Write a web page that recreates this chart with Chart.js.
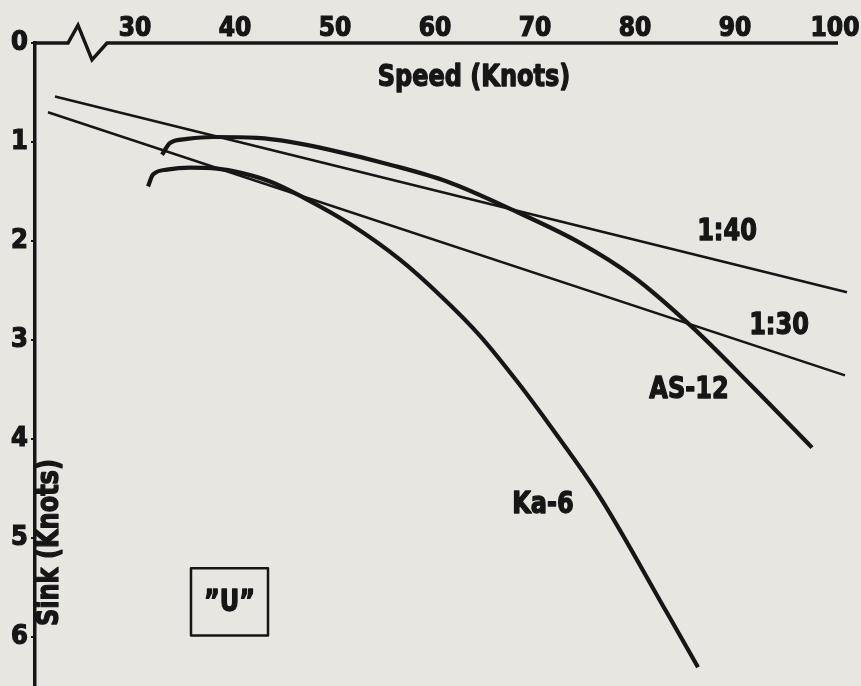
<!DOCTYPE html>
<html>
<head>
<meta charset="utf-8">
<script src="https://cdn.jsdelivr.net/npm/chart.js@4"></script>
<style>
  html, body { margin: 0; padding: 0; background: #e8e6e1; }
  #wrap { width: 861px; height: 686px; position: relative; }
</style>
</head>
<body>
<div id="wrap"><canvas id="c"></canvas></div>
<script>
// ---- data ----
const xTickValues = [30, 40, 50, 60, 70, 80, 90, 100];
const yTickValues = [0, 1, 2, 3, 4, 5, 6];

const ka6Speed = [31.0, 31.5, 32.9, 35.2, 37.9, 40.2, 43.2, 46.5, 51.2, 56.2, 60.2, 64.2, 67.9, 71.5, 76.2, 82.9, 86.0];
const ka6Sink  = [1.45, 1.33, 1.28, 1.26, 1.27, 1.31, 1.40, 1.56, 1.83, 2.19, 2.55, 2.96, 3.42, 3.91, 4.59, 5.76, 6.31];

const as12Speed = [32.4, 33.2, 34.9, 37.5, 41.9, 45.2, 49.2, 55.2, 60.9, 67.5, 74.2, 79.5, 85.4, 91.4, 97.4];
const as12Sink  = [1.13, 1.01, 0.97, 0.95, 0.96, 1.00, 1.08, 1.23, 1.40, 1.69, 2.02, 2.36, 2.87, 3.47, 4.09];

const glide40Speed = [21.7, 100.9];
const glide40Sink  = [0.54, 2.52];

const glide30Speed = [21.0, 100.7];
const glide30Sink  = [0.70, 3.36];

// top speed axis with its broken (zig-zag) start
const axisLineSpeed = [19.7, 23.0, 24.0, 25.4, 26.9, 100];
const axisLineSink  = [0, 0, -0.18, 0.17, 0, 0];

// ---- styling ----
const INK = '#161616';
const FAMILY = '"DejaVu Sans Condensed", "Liberation Sans Narrow", "DejaVu Sans", sans-serif';

function pts(xs, ys) { return xs.map((v, i) => ({ x: v, y: ys[i] })); }

const textPlugin = {
  id: 'chartTexts',
  afterDatasetsDraw(chart, args, opts) {
    const { ctx, scales: { x, y } } = chart;
    ctx.save();
    ctx.fillStyle = INK;
    ctx.strokeStyle = INK;
    ctx.textAlign = 'center';
    ctx.textBaseline = 'middle';
    ctx.lineJoin = 'round';
    for (const t of opts.items) {
      ctx.save();
      ctx.font = 'bold ' + t.size + 'px ' + FAMILY;
      ctx.translate(x.getPixelForValue(t.x), y.getPixelForValue(t.y));
      if (t.rotate) ctx.rotate(t.rotate);
      ctx.scale(opts.squeeze, 1);
      ctx.lineWidth = 1.3;
      ctx.strokeText(t.text, 0, 0);
      ctx.fillText(t.text, 0, 0);
      ctx.restore();
    }
    for (const b of opts.boxes) {
      const x0 = x.getPixelForValue(b.x0), x1 = x.getPixelForValue(b.x1);
      const y0 = y.getPixelForValue(b.y0), y1 = y.getPixelForValue(b.y1);
      ctx.lineWidth = 2.5;
      ctx.strokeRect(x0, y0, x1 - x0, y1 - y0);
    }
    ctx.restore();
  }
};

new Chart(document.getElementById('c'), {
  type: 'scatter',
  data: {
    datasets: [
      { label: 'axis', data: pts(axisLineSpeed, axisLineSink), showLine: true, borderColor: INK, borderWidth: 3.5, pointRadius: 0, tension: 0, clip: false, borderJoinStyle: 'miter' },
      { label: '1:40', data: pts(glide40Speed, glide40Sink), showLine: true, borderColor: INK, borderWidth: 2.5, pointRadius: 0, clip: false },
      { label: '1:30', data: pts(glide30Speed, glide30Sink), showLine: true, borderColor: INK, borderWidth: 2.5, pointRadius: 0, clip: false },
      { label: 'AS-12', data: pts(as12Speed, as12Sink), showLine: true, borderColor: INK, borderWidth: 4.2, pointRadius: 0, cubicInterpolationMode: 'monotone' },
      { label: 'Ka-6', data: pts(ka6Speed, ka6Sink), showLine: true, borderColor: INK, borderWidth: 4.2, pointRadius: 0, cubicInterpolationMode: 'monotone' }
    ]
  },
  options: {
    responsive: true,
    maintainAspectRatio: false,
    animation: false,
    layout: { padding: { left: 0, top: 0, right: 23, bottom: 0 } },
    plugins: {
      legend: { display: false },
      tooltip: { enabled: false },
      chartTexts: {
        squeeze: 0.89,
        items: [
          { text: 'Speed (Knots)', x: 63.6, y: 0.36, size: 30 },
          { text: 'Sink (Knots)', x: 21.25, y: 5.05, size: 30, rotate: -Math.PI / 2 },
          { text: '1:40', x: 88.9, y: 1.91, size: 30 },
          { text: '1:30', x: 94.1, y: 2.86, size: 30 },
          { text: 'AS-12', x: 85.1, y: 3.51, size: 30 },
          { text: 'Ka-6', x: 70.5, y: 4.67, size: 30 },
          { text: '\u201dU\u201d', x: 39.15, y: 5.66, size: 30 }
        ],
        boxes: [ { x0: 35.3, x1: 43.0, y0: 5.31, y1: 5.99 } ]
      }
    },
    scales: {
      x: {
        type: 'linear',
        position: 'top',
        min: 19.7,
        max: 100,
        afterBuildTicks: (s) => { s.ticks = xTickValues.map(v => ({ value: v })); },
        afterFit: (s) => { s.height = 43; s.paddingLeft = 0; s.paddingRight = 0; },
        grid: { display: false, drawTicks: false },
        border: { display: false },
        ticks: { color: INK, textStrokeColor: INK, textStrokeWidth: 1.2, padding: 1, labelOffset: -3, maxRotation: 0, autoSkip: false, font: { family: FAMILY, size: 26, weight: 'bold', lineHeight: 1 } }
      },
      y: {
        type: 'linear',
        position: 'left',
        reverse: true,
        min: 0,
        max: 6.5,
        afterBuildTicks: (s) => { s.ticks = yTickValues.map(v => ({ value: v })); },
        afterFit: (s) => { s.width = 35; s.paddingTop = 0; s.paddingBottom = 0; },
        grid: { display: true, drawOnChartArea: false, drawTicks: true, tickLength: 4, color: INK, lineWidth: 2 },
        border: { display: true, color: INK, width: 3.5 },
        ticks: { color: INK, textStrokeColor: INK, textStrokeWidth: 1.2, padding: 3, autoSkip: false, font: { family: FAMILY, size: 27, weight: 'bold', lineHeight: 1 } }
      }
    }
  },
  plugins: [textPlugin]
});
</script>
</body>
</html>
